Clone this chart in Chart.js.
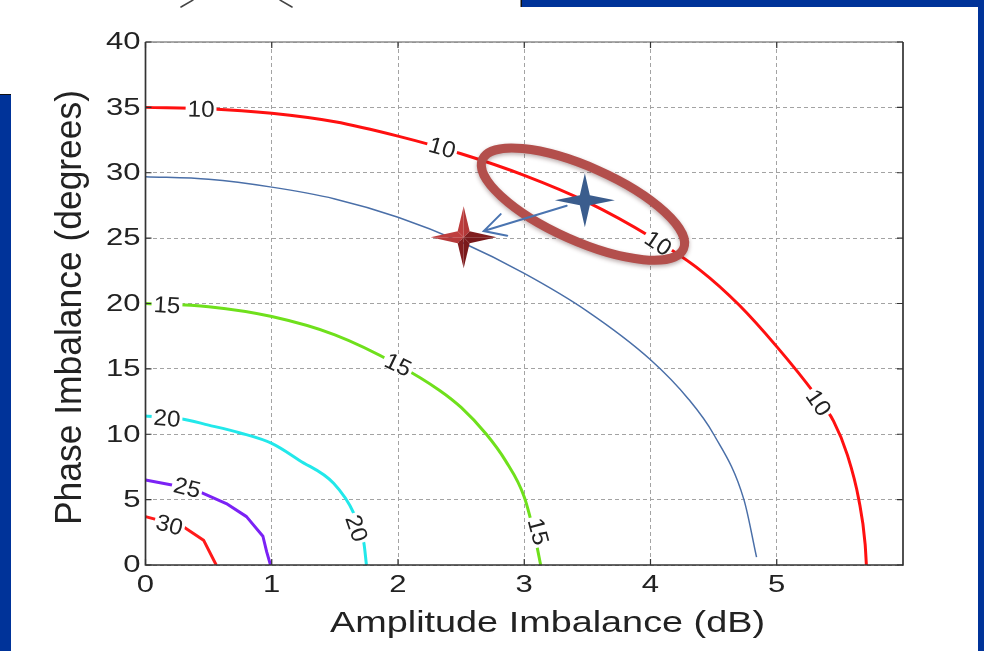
<!DOCTYPE html>
<html>
<head>
<meta charset="utf-8">
<title>Image rejection contours</title>
<script src="https://cdn.jsdelivr.net/npm/chart.js@4.4.1/dist/chart.umd.min.js"></script>
<style>
  html, body { margin: 0; padding: 0; background: #fff; }
  body { width: 984px; height: 651px; position: relative; overflow: hidden; }
  #chart { position: absolute; left: 0; top: 0; }
  .band { position: absolute; background: #003399; }
</style>
</head>
<body>
<canvas id="chart" width="984" height="651"></canvas>
<div class="band" style="left:522px; top:0; width:462px; height:7px; box-shadow:-1.5px 0 0 #111;"></div>
<div class="band" style="left:978px; top:0; width:6px; height:651px;"></div>
<div class="band" style="left:0; top:95px; width:11px; height:556px; box-shadow:0 -1px 0 #111;"></div>
<script>
const FONT = '"Liberation Sans", Arial, Helvetica, sans-serif';
const INK = '#222';

// axes
const xTicks = [0, 1, 2, 3, 4, 5];
const yTicks = [0, 5, 10, 15, 20, 25, 30, 35, 40];
const xTitle = 'Amplitude Imbalance (dB)';
const yTitle = 'Phase Imbalance (degrees)';

// image rejection contours: amplitude imbalance (dB) vs phase imbalance (deg)
const amp10   = [0, 0.5, 1.0, 1.5, 2.0, 2.5, 3.0, 3.5, 4.0, 4.4, 4.7, 5.0, 5.3, 5.45, 5.56, 5.65, 5.7, 5.71];
const phase10 = [35.0, 34.9, 34.55, 33.9, 32.8, 31.45, 29.8, 27.75, 25.1, 22.5, 19.9, 16.7, 13.1, 11.0, 8.4, 5.0, 1.6, 0];

const ampRef   = [0, 0.5, 1.0, 1.5, 2.0, 2.5, 3.0, 3.5, 4.0, 4.3, 4.5, 4.74, 4.84];
const phaseRef = [29.7, 29.5, 28.9, 28.0, 26.6, 24.7, 22.3, 19.4, 15.7, 12.7, 10.0, 5.0, 0.6];

const amp15   = [0, 0.5, 1.0, 1.5, 2.0, 2.33, 2.5, 2.7, 2.85, 3.0, 3.09, 3.13];
const phase15 = [20.0, 19.75, 19.0, 17.6, 15.3, 13.35, 12.05, 10.0, 8.0, 5.2, 1.9, 0];

const amp20   = [0, 0.27, 0.5, 0.75, 1.0, 1.22, 1.49, 1.65, 1.73, 1.75];
const phase20 = [11.4, 11.2, 10.7, 10.1, 9.3, 8.0, 6.25, 3.95, 1.66, 0];

const amp25   = [0, 0.22, 0.43, 0.64, 0.80, 0.93, 0.96, 0.99];
const phase25 = [6.5, 6.1, 5.6, 4.7, 3.7, 2.2, 1.0, 0];

const amp30   = [0, 0.30, 0.46, 0.56];
const phase30 = [3.7, 2.93, 1.9, 0];

// inline contour labels (dataset index they sit on)
const labelText  = ['10', '10', '10', '10', '15', '15', '15', '20', '20', '25', '30'];
const labelCurve = [0, 0, 0, 0, 2, 2, 2, 3, 3, 4, 5];
const labelAmp   = [0.44, 2.35, 4.06, 5.33, 0.17, 2.0, 3.11, 0.17, 1.67, 0.33, 0.19];
const labelPhase = [34.85, 31.9, 24.6, 12.4, 19.85, 15.3, 2.55, 11.2, 2.8, 5.9, 3.05];

// operating points: measured (blue star) and corrected (red star)
const markAmp   = [3.48, 2.52];
const markPhase = [27.9, 25.07];
const ringAmp = 3.465, ringPhase = 27.6;

function series(amp, phase) { return amp.map((a, i) => ({ x: a, y: phase[i] })); }

function contour(amp, phase, color, width, smooth) {
  return { data: series(amp, phase), showLine: true, borderColor: color, borderWidth: width,
           pointRadius: 0, fill: false, borderCapStyle: 'butt', borderJoinStyle: 'round',
           cubicInterpolationMode: smooth ? 'monotone' : 'default', tension: 0 };
}

function segAngle(meta, px, py) {
  const pts = meta.data;
  let best = 0, bd = Infinity;
  for (let i = 0; i < pts.length - 1; i++) {
    const ax = pts[i].x, ay = pts[i].y, bx = pts[i + 1].x, by = pts[i + 1].y;
    const dx = bx - ax, dy = by - ay, L = dx * dx + dy * dy || 1;
    let t = ((px - ax) * dx + (py - ay) * dy) / L;
    t = Math.max(0, Math.min(1, t));
    const qx = ax + t * dx - px, qy = ay + t * dy - py, d = qx * qx + qy * qy;
    if (d < bd) { bd = d; best = i; }
  }
  const a = pts[best], b = pts[best + 1];
  let ang = Math.atan2(b.y - a.y, b.x - a.x);
  if (ang > Math.PI / 2) ang -= Math.PI;
  if (ang < -Math.PI / 2) ang += Math.PI;
  return ang;
}

function starPath(ctx, cx, cy, w, h, k) {
  ctx.beginPath();
  ctx.moveTo(cx + w, cy);
  ctx.lineTo(cx + k, cy + k);
  ctx.lineTo(cx, cy + h);
  ctx.lineTo(cx - k, cy + k);
  ctx.lineTo(cx - w, cy);
  ctx.lineTo(cx - k, cy - k);
  ctx.lineTo(cx, cy - h);
  ctx.lineTo(cx + k, cy - k);
  ctx.closePath();
}

function bevelStar(ctx, cx, cy, w, h, k) {
  const tips = [[w, 0], [0, h], [-w, 0], [0, -h]];
  const inner = [[k, k], [-k, k], [-k, -k], [k, -k]];
  const light = -2.4; // light from upper left
  for (let i = 0; i < 4; i++) {
    const t = tips[i];
    const sides = [inner[(i + 3) % 4], inner[i]];
    for (const s of sides) {
      const mx = (t[0] + s[0]) / 3, my = (t[1] + s[1]) / 3;
      const ang = Math.atan2(my, mx);
      const f = 0.5 + 0.5 * Math.cos(ang - light);
      const r = Math.round(112 + f * 86), g = Math.round(20 + f * 46), b = Math.round(22 + f * 44);
      ctx.beginPath();
      ctx.moveTo(cx, cy);
      ctx.lineTo(cx + t[0], cy + t[1]);
      ctx.lineTo(cx + s[0], cy + s[1]);
      ctx.closePath();
      ctx.fillStyle = `rgb(${r},${g},${b})`;
      ctx.fill();
    }
  }
}

function stretchedText(ctx, text, x, y, size, sx, align, baseline) {
  ctx.save();
  ctx.translate(x, y);
  ctx.scale(sx, 1);
  ctx.font = `${size}px ${FONT}`;
  ctx.textAlign = align;
  ctx.textBaseline = baseline;
  ctx.fillText(text, 0, 0);
  ctx.restore();
}

const decor = {
  id: 'decor',
  afterDatasetsDraw(chart) {
    const { ctx, chartArea: a, scales: { x, y } } = chart;
    ctx.save();

    // axes box
    ctx.lineWidth = 1.3;
    ctx.strokeStyle = '#8c8c8c';
    ctx.beginPath(); ctx.moveTo(a.left, a.top); ctx.lineTo(a.right, a.top); ctx.stroke();
    ctx.strokeStyle = '#333';
    ctx.lineWidth = 1.7;
    ctx.beginPath();
    ctx.moveTo(a.left, a.top); ctx.lineTo(a.left, a.bottom); ctx.lineTo(a.right, a.bottom); ctx.lineTo(a.right, a.top);
    ctx.stroke();

    // inward tick marks
    ctx.lineWidth = 1.2;
    ctx.strokeStyle = '#333';
    ctx.beginPath();
    for (const v of xTicks) {
      const px = x.getPixelForValue(v);
      ctx.moveTo(px, a.bottom); ctx.lineTo(px, a.bottom - 6);
      ctx.moveTo(px, a.top); ctx.lineTo(px, a.top + 6);
    }
    for (const v of yTicks) {
      const py = y.getPixelForValue(v);
      ctx.moveTo(a.left, py); ctx.lineTo(a.left + 6, py);
      ctx.moveTo(a.right, py); ctx.lineTo(a.right - 6, py);
    }
    ctx.stroke();

    // tick labels
    ctx.fillStyle = INK;
    for (const v of yTicks) stretchedText(ctx, String(v), a.left - 5, y.getPixelForValue(v) + 1, 23, 1.35, 'right', 'middle');
    for (const v of xTicks) stretchedText(ctx, String(v), x.getPixelForValue(v), a.bottom + 21, 23, 1.35, 'center', 'middle');

    // axis titles
    ctx.font = `29px ${FONT}`;
    const wx = ctx.measureText(xTitle).width;
    stretchedText(ctx, xTitle, 547.5, 632, 29, 435 / wx, 'center', 'alphabetic');
    ctx.font = `37px ${FONT}`;
    const wy = ctx.measureText(yTitle).width;
    ctx.save();
    ctx.translate(81, 307.5);
    ctx.rotate(-Math.PI / 2);
    ctx.scale(435 / wy, 1);
    ctx.textAlign = 'center';
    ctx.textBaseline = 'alphabetic';
    ctx.fillText(yTitle, 0, 0);
    ctx.restore();

    // contour labels: clear a gap in the line first
    const labels = labelText.map((t, i) => {
      const px = x.getPixelForValue(labelAmp[i]), py = y.getPixelForValue(labelPhase[i]);
      return { t, px, py, ang: segAngle(chart.getDatasetMeta(labelCurve[i]), px, py) };
    });
    ctx.font = `23px ${FONT}`;
    for (const L of labels) {
      const w = ctx.measureText(L.t).width * 1.05;
      ctx.save();
      ctx.translate(L.px, L.py);
      ctx.rotate(L.ang);
      ctx.fillStyle = '#fff';
      ctx.fillRect(-w / 2 - 2, -8, w + 4, 16);
      ctx.restore();
    }

    // highlight ring around the measured point
    const rx = x.getPixelForValue(ringAmp), ry = y.getPixelForValue(ringPhase);
    ctx.save();
    ctx.shadowColor = 'rgba(60,20,20,0.35)';
    ctx.shadowBlur = 4;
    ctx.shadowOffsetY = 2;
    ctx.lineWidth = 9;
    ctx.strokeStyle = '#b34f4c';
    ctx.beginPath();
    ctx.ellipse(rx, ry, 110, 37, 24 * Math.PI / 180, 0, Math.PI * 2);
    ctx.stroke();
    ctx.restore();

    // arrow from measured to corrected point
    const pm = chart.getDatasetMeta(6).data;
    const B = { x: pm[0].x, y: pm[0].y }, R = { x: pm[1].x, y: pm[1].y };
    const dx = R.x - B.x, dy = R.y - B.y, len = Math.hypot(dx, dy), ux = dx / len, uy = dy / len;
    const s0 = { x: B.x + ux * 19, y: B.y + uy * 19 }, tip = { x: R.x - ux * 21, y: R.y - uy * 21 };
    ctx.strokeStyle = '#4a74b0';
    ctx.lineWidth = 2;
    ctx.lineCap = 'round';
    ctx.beginPath();
    ctx.moveTo(s0.x, s0.y); ctx.lineTo(tip.x, tip.y);
    const back = Math.atan2(-uy, -ux), hl = 24, spread = 28 * Math.PI / 180;
    ctx.moveTo(tip.x + hl * Math.cos(back - spread), tip.y + hl * Math.sin(back - spread));
    ctx.lineTo(tip.x, tip.y);
    ctx.lineTo(tip.x + hl * Math.cos(back + spread), tip.y + hl * Math.sin(back + spread));
    ctx.stroke();

    // stars
    ctx.fillStyle = '#3b5d8d';
    starPath(ctx, B.x, B.y, 30, 27, 5);
    ctx.fill();
    bevelStar(ctx, R.x, R.y, 33, 31, 6);

    // contour label text
    ctx.fillStyle = INK;
    for (const L of labels) {
      ctx.save();
      ctx.translate(L.px, L.py);
      ctx.rotate(L.ang);
      ctx.scale(1.05, 1);
      ctx.font = `23px ${FONT}`;
      ctx.textAlign = 'center';
      ctx.textBaseline = 'middle';
      ctx.fillText(L.t, 0, 1);
      ctx.restore();
    }

    // edge of the figure above the plot
    ctx.strokeStyle = '#444';
    ctx.lineWidth = 1.5;
    ctx.beginPath();
    ctx.moveTo(181, 7); ctx.lineTo(193, 0);
    ctx.moveTo(280, 0); ctx.lineTo(292, 7);
    ctx.stroke();

    ctx.restore();
  }
};

new Chart(document.getElementById('chart'), {
  type: 'scatter',
  data: {
    datasets: [
      contour(amp10, phase10, '#ff1010', 3, true),
      contour(ampRef, phaseRef, '#4a6fa8', 1.5, true),
      contour(amp15, phase15, '#6fe01c', 3, true),
      contour(amp20, phase20, '#22e8ea', 3, true),
      contour(amp25, phase25, '#7b22f5', 3, false),
      contour(amp30, phase30, '#ff1a1a', 3, false),
      { data: series(markAmp, markPhase), pointRadius: 0, showLine: false }
    ]
  },
  options: {
    responsive: false,
    animation: false,
    events: [],
    layout: { padding: { left: 0, top: 42, right: 81, bottom: 0 } },
    plugins: { legend: { display: false }, tooltip: { enabled: false } },
    scales: {
      x: {
        type: 'linear', min: 0, max: 6,
        afterBuildTicks: s => { s.ticks = xTicks.map(v => ({ value: v })); },
        afterFit: s => { s.height = 86; },
        grid: { color: '#a3a3a3', lineWidth: 1, drawTicks: false },
        border: { display: false, dash: [4, 3] },
        ticks: { display: false }
      },
      y: {
        type: 'linear', min: 0, max: 40,
        afterBuildTicks: s => { s.ticks = yTicks.map(v => ({ value: v })); },
        afterFit: s => { s.width = 145.5; },
        grid: { color: '#a3a3a3', lineWidth: 1, drawTicks: false },
        border: { display: false, dash: [4, 3] },
        ticks: { display: false }
      }
    }
  },
  plugins: [decor]
});
</script>
</body>
</html>
